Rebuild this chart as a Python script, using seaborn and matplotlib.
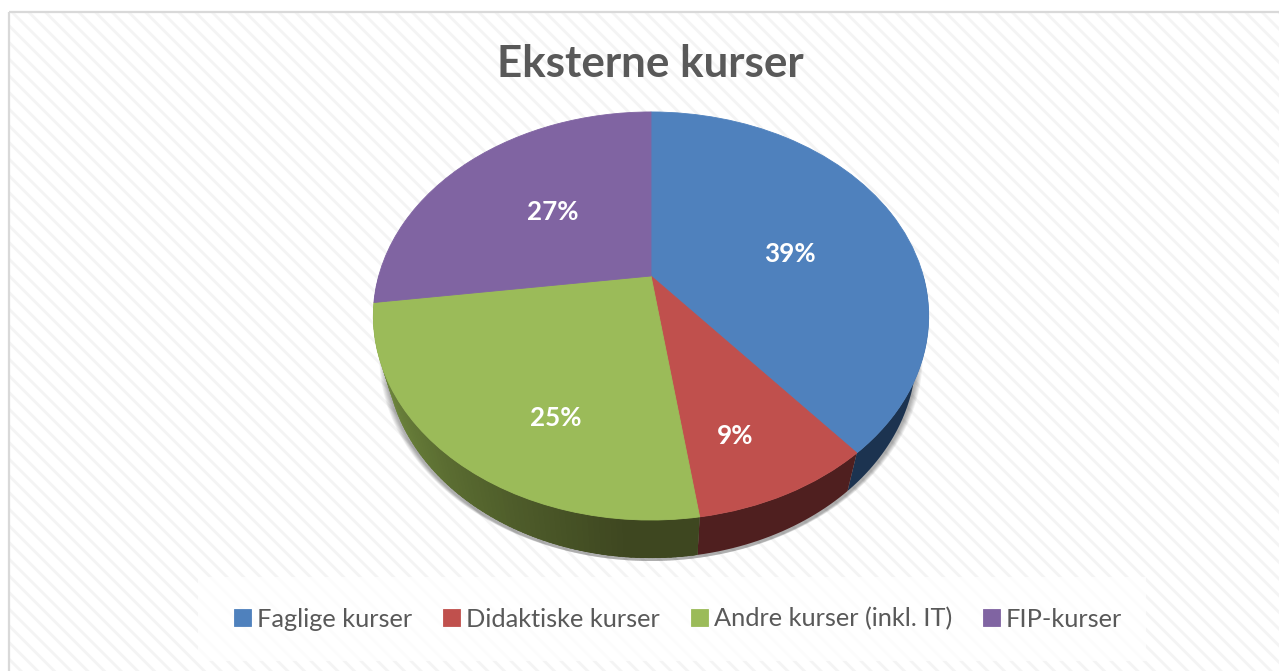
import numpy as np
import seaborn as sns
import matplotlib
matplotlib.use("Agg")
import matplotlib.pyplot as plt
from matplotlib.patches import Polygon, Rectangle
from matplotlib.transforms import Transform
from matplotlib.colors import to_rgb

# ---- data ----
categories = ["Faglige kurser", "Didaktiske kurser", "Andre kurser (inkl. IT)", "FIP-kurser"]
shares = [38.9, 8.8, 25.2, 27.1]
title = "Eksterne kurser"

# ---- style ----
face_colors = ["#4f81bd", "#c0504d", "#9bbb59", "#8064a2"]
wall_colors = [("#1c3350", "#1c3350"), ("#4f1f1f", "#4f1f1f"), ("#7a9645", "#3e4720"), ("#4a3a60", "#4a3a60")]
label_positions = [(790, 254.5), (735, 435.5), (556, 417.5), (553, 211.5)]

sns.set_theme(style="white")
plt.rcParams["font.family"] = ["Lato", "DejaVu Sans"]
plt.rcParams["hatch.linewidth"] = 2.0
plt.rcParams["hatch.color"] = "#f4f4f4"

CX, APEX_Y, A, B, K, DEPTH, TAPER = 651.0, 276.0, 196.2, 272.3, 0.196, 38.0, 0.955


class Perspective(Transform):
    """Tilts the unit pie into the slanted disc seen in the picture."""
    input_dims = output_dims = 2
    is_separable = False
    has_inverse = False

    def transform_non_affine(self, values):
        v = np.asarray(values, dtype=float)
        w = 1 + K * v[:, 1]
        return np.column_stack([CX + B * v[:, 0] / w, APEX_Y - A * v[:, 1] / w])


persp = Perspective()


def arc(t1, t2, n=120):
    t = np.radians(np.linspace(t1, t2, n))
    return persp.transform_non_affine(np.column_stack([np.cos(t), np.sin(t)]))


def lower_rim(pts):
    return np.column_stack([CX + (pts[:, 0] - CX) * TAPER, pts[:, 1] + DEPTH])


fig = plt.figure(figsize=(12.79, 6.71), dpi=100, facecolor="white")
ax = fig.add_axes([0, 0, 1, 1])

palette = sns.color_palette(face_colors)
wedges, _, autotexts = ax.pie(
    shares, colors=palette, startangle=90, counterclock=False, autopct="%.0f%%",
    wedgeprops={"linewidth": 0.6, "zorder": 5},
)
for w in wedges:
    w.set_edgecolor(w.get_facecolor())
ax.set_aspect("auto")
ax.set_xlim(0, 1279)
ax.set_ylim(671, 0)
ax.axis("off")

# background with fine diagonal stripes and frame
ax.add_patch(Rectangle((9, 12), 1300, 700, facecolor="white", edgecolor="none", zorder=0))
ax.add_patch(Rectangle((9, 12), 1300, 700, facecolor="none", edgecolor="#f4f4f4", hatch="\\\\", lw=0, zorder=0.1))
ax.add_patch(Rectangle((9, 12), 1300, 700, facecolor="none", edgecolor="#d9d9d9", lw=1.6, zorder=0.2))

# legend band
ax.add_patch(Rectangle((198, 577), 948, 84, facecolor="white", edgecolor="none", alpha=0.8, zorder=0.3))

# soft shadow below the disc
rim = lower_rim(arc(0, 360, 240))
for i in range(7):
    grow = 1 + 0.0035 * (7 - i)
    pts = np.column_stack([CX + (rim[:, 0] - CX) * grow, rim[:, 1] + 3])
    ax.add_patch(Polygon(pts, closed=True, facecolor="black", edgecolor="none", alpha=0.05, zorder=1))

# side wall
VIS0, VIS1, VIS2 = 191.3, 180.0, 360.0
for w, (c1, c2) in zip(wedges, wall_colors):
    t1 = w.theta1 % 360
    t2 = t1 + (w.theta2 - w.theta1)
    lo, hi = max(t1, VIS1), min(t2, VIS2)
    if hi <= lo:
        continue
    if c1 == c2:
        top = arc(lo, hi, 60)
        ax.add_patch(Polygon(np.vstack([top, lower_rim(top)[::-1]]), closed=True,
                             facecolor=c1, edgecolor="none", zorder=3))
        continue
    edges = np.linspace(lo, hi, max(2, int(hi - lo) + 1))
    c1, c2 = np.array(to_rgb(c1)), np.array(to_rgb(c2))
    for a, b in zip(edges[:-1], edges[1:]):
        top = arc(a, min(b + 1.5, hi), 6)
        f = np.clip((b - VIS0) / 75.0, 0, 1)
        col = c1 + (c2 - c1) * f
        ax.add_patch(Polygon(np.vstack([top, lower_rim(top)[::-1]]), closed=True,
                             facecolor=col, edgecolor="none", zorder=3))

# top face: the pie's own wedges, tilted
for w in wedges:
    w.set_transform(persp + ax.transData)
    w.set_clip_on(False)

# percentage labels
for t, (x, y) in zip(autotexts, label_positions):
    t.set_position((x, y))
    t.set_transform(ax.transData)
    t.set_color("white")
    t.set_fontweight("bold")
    t.set_fontsize(18.7)
    t.set_ha("center")
    t.set_va("center")
    t.set_zorder(6)

ax.text(650, 64, title, ha="center", va="center", fontsize=31.7, fontweight="bold", color="#595959", zorder=6)

leg = ax.legend(
    wedges, categories, ncol=4, loc="center", bbox_to_anchor=(678 / 1279, 1 - 619 / 671),
    frameon=False, fontsize=18.3, handlelength=0.67, handleheight=0.67, handletextpad=0.23,
    columnspacing=1.22, labelcolor="#595959",
)
leg.set_zorder(6)

fig.savefig("out.png", dpi=100)
